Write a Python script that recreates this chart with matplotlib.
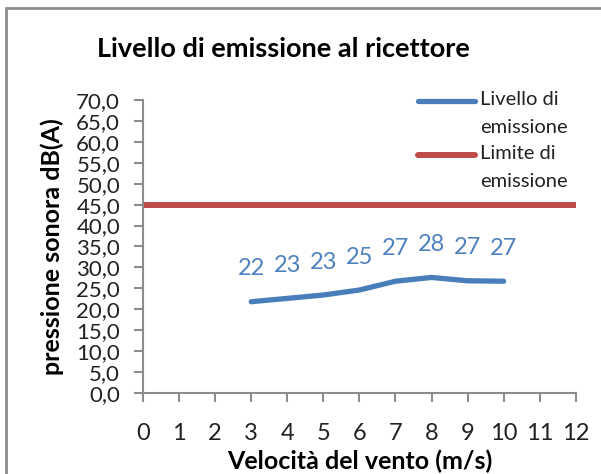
import numpy as np
import matplotlib
matplotlib.use("Agg")
import matplotlib.pyplot as plt
from matplotlib.lines import Line2D
from matplotlib.patches import Rectangle

# wind speed (m/s) and emission level at the receiver, dB(A)
vento = [3, 4, 5, 6, 7, 8, 9, 10]
livello = [21.8, 22.6, 23.4, 24.6, 26.7, 27.6, 26.8, 26.7]
limite_x = [0, 12]
limite = [45, 45]
serie = ["Livello di\nemissione", "Limite di\nemissione"]

BLUE, RED, GREY = "#4A7EBB", "#BE4B48", "#8C8C8C"
plt.rcParams.update({"font.family": ["Lato", "DejaVu Sans"]})

fig = plt.figure(figsize=(6.01, 4.74), dpi=100)
ax = fig.add_axes([0.238, 0.171, 0.72, 0.618])

l1, = ax.plot(vento, livello, color=BLUE, lw=3.8, solid_capstyle="round")
l2, = ax.plot(limite_x, limite, color=RED, lw=4.3, solid_capstyle="butt")
for x, v in zip(vento, livello):
    ax.annotate(f"{v:.0f}", (x, v), xytext=(0, 33), textcoords="offset pixels",
                ha="center", va="center", fontsize=17, color="#4F81BD")

ax.set_xlim(0, 12); ax.set_ylim(0, 70)
ax.set_xticks(range(0, 13))
yt = np.arange(0, 71, 5)
ax.set_yticks(yt)
ax.set_yticklabels([f"{t:.1f}".replace(".", ",") for t in yt])
for s in ("top", "right"):
    ax.spines[s].set_visible(False)
for s in ("left", "bottom"):
    ax.spines[s].set_color(GREY); ax.spines[s].set_linewidth(1.5)
ax.tick_params(colors=GREY, labelcolor="#222222", length=6.5, width=1.5)
ax.tick_params(axis="y", labelsize=16, pad=10)
ax.tick_params(axis="x", labelsize=17, pad=15)

ax.set_ylabel("pressione sonora dB(A)", fontsize=18, fontweight="bold", va="center")
ax.yaxis.set_label_coords(-0.21, 0.5)
ax.set_xlabel("Velocità del vento (m/s)", fontsize=18, fontweight="bold", va="center")
ax.xaxis.set_label_coords(0.501, -0.232)
fig.text(0.472, 0.897, "Livello di emissione al ricettore", ha="center", va="center",
         fontsize=19.5, fontweight="bold")

# legend: handle sits on the first line of each two-line entry
for (line, lab), yy in zip([(l1, serie[0]), (l2, serie[1])], [0.997, 0.812]):
    ax.add_line(Line2D([0.635, 0.767], [yy, yy], transform=ax.transAxes, clip_on=False,
                       color=line.get_color(), lw=line.get_linewidth(), solid_capstyle="round"))
    ax.text(0.778, yy + 0.035, lab, transform=ax.transAxes, ha="left", va="top",
            fontsize=14.5, linespacing=1.8, color="#222222")

# outer chart frame
fig.patches.append(Rectangle((0.01, -0.1), 1.2, 1.083, transform=fig.transFigure,
                             fill=False, ec=GREY, lw=2))

fig.savefig("out.png", dpi=100)
